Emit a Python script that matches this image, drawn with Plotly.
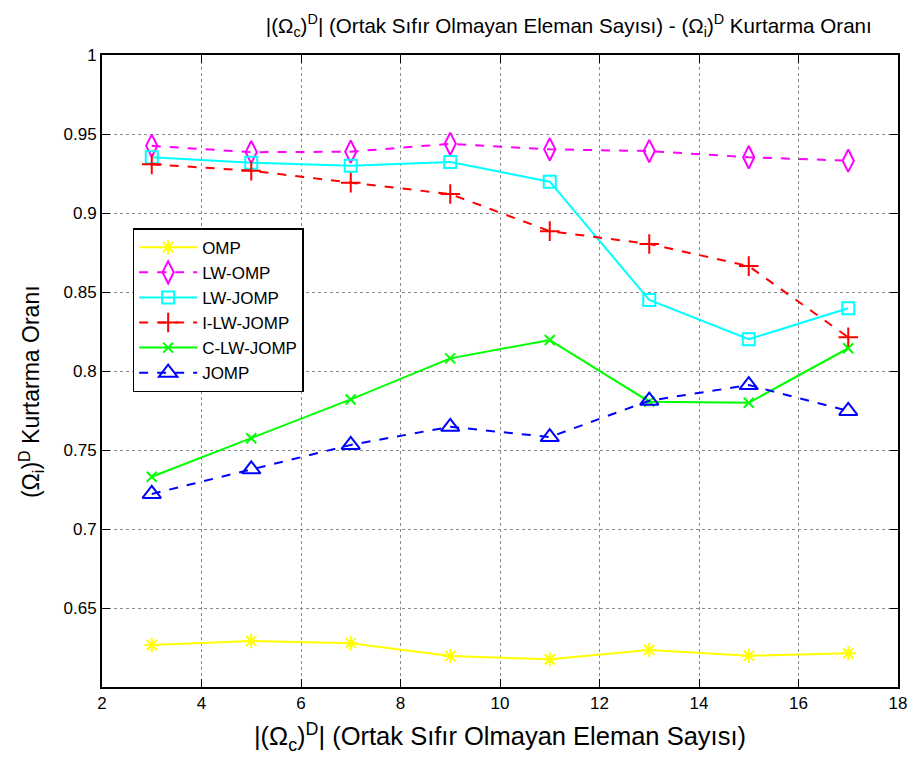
import plotly.graph_objects as go

x_vals = [3, 5, 7, 9, 11, 13, 15, 17]
omp = [0.6266, 0.6291, 0.6277, 0.6196, 0.6175, 0.6234, 0.6198, 0.6213]
lw_omp = [0.9425, 0.9385, 0.9388, 0.9438, 0.9403, 0.9392, 0.9353, 0.9331]
lw_jomp = [0.9353, 0.9318, 0.9299, 0.9323, 0.9198, 0.8450, 0.8201, 0.8397]
i_lw_jomp = [0.9308, 0.9268, 0.9192, 0.9120, 0.8885, 0.8804, 0.8664, 0.8213]
c_lw_jomp = [0.7331, 0.7574, 0.7820, 0.8080, 0.8196, 0.7806, 0.7799, 0.8144]
jomp = [0.7222, 0.7378, 0.7532, 0.7647, 0.7582, 0.7812, 0.7911, 0.7747]

y_ticks = [0.65, 0.7, 0.75, 0.8, 0.85, 0.9, 0.95, 1]
y_tick_text = ["0.65", "0.7", "0.75", "0.8", "0.85", "0.9", "0.95", "1"]
x_ticks = [2, 4, 6, 8, 10, 12, 14, 16, 18]

series = [
    ("OMP", omp, "#ffff00", "solid", "asterisk-open", 12),
    ("LW-OMP", lw_omp, "#ff00ff", "dash", "diamond-tall-open", 16),
    ("LW-JOMP", lw_jomp, "#00ffff", "solid", "square-open", 12),
    ("I-LW-JOMP", i_lw_jomp, "#ff0000", "dash", "cross-thin-open", 14),
    ("C-LW-JOMP", c_lw_jomp, "#00ff00", "solid", "x-thin-open", 10),
    ("JOMP", jomp, "#0000ff", "dash", "triangle-up-open", 16),
]

fig = go.Figure()
for name, ys, col, dash, sym, size in series:
    fig.add_trace(go.Scatter(
        x=x_vals, y=ys, name=name, mode="lines+markers",
        line=dict(color=col, width=2, dash=dash),
        marker=dict(symbol=sym, size=size, color=col, line=dict(color=col, width=2)),
    ))

font_family = "Liberation Sans, Arial, sans-serif"

fig.update_layout(
    width=913, height=762,
    margin=dict(l=102, r=6, t=55, b=75),
    paper_bgcolor="white", plot_bgcolor="white",
    font=dict(family=font_family, color="black", size=17),
    title=dict(
        text="|(Ω<sub>c</sub>)<sup>D</sup>| (Ortak Sıfır Olmayan Eleman Sayısı) - (Ω<sub>i</sub>)<sup>D</sup> Kurtarma Oranı",
        x=0.623, xanchor="center", y=0.966, yanchor="middle",
        font=dict(size=20.6, family=font_family, color="black"),
    ),
    xaxis=dict(
        range=[2, 18], tickvals=x_ticks, ticks="inside", ticklen=8, tickcolor="black",
        showline=True, linecolor="black", linewidth=2, mirror="ticks",
        showgrid=True, gridcolor="#8a8a8a", griddash="dot", gridwidth=1,
        zeroline=False, tickfont=dict(size=17), ticklabeloverflow="allow",
        title=dict(text="|(Ω<sub>c</sub>)<sup>D</sup>| (Ortak Sıfır Olmayan Eleman Sayısı)",
                   font=dict(size=25.5), standoff=15),
    ),
    yaxis=dict(
        range=[0.6, 1], tickvals=y_ticks, ticktext=y_tick_text, ticks="inside", ticklen=8,
        tickcolor="black",
        showline=True, linecolor="black", linewidth=2, mirror="ticks",
        showgrid=True, gridcolor="#8a8a8a", griddash="dot", gridwidth=1,
        zeroline=False, tickfont=dict(size=17), ticklabeloverflow="allow",
    ),
    legend=dict(
        x=0.0385, y=0.726, xanchor="left", yanchor="top",
        bgcolor="white", bordercolor="black", borderwidth=1.5,
        font=dict(size=17, family=font_family), tracegroupgap=0, itemwidth=58,
    ),
    showlegend=True,
    annotations=[dict(
        text="(Ω<sub>i</sub>)<sup>D</sup> Kurtarma Oranı",
        xref="paper", yref="paper", x=-0.0894, y=0.468,
        xanchor="center", yanchor="middle", textangle=-90, showarrow=False,
        font=dict(size=23, family=font_family, color="black"),
    )],
)

fig.write_html("out.html")
